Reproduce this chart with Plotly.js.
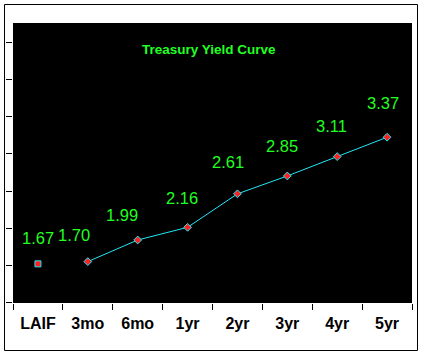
<!DOCTYPE html>
<html>
<head>
<meta charset="utf-8">
<script src="https://cdn.plot.ly/plotly-3.0.1.min.js"></script>
<style>html,body{margin:0;padding:0;background:#fff;}#chart{width:423px;height:356px;}</style>
</head>
<body>
<div id="chart"></div>
<script>
// ---- data ----
const categories = ['LAIF', '3mo', '6mo', '1yr', '2yr', '3yr', '4yr', '5yr'];
const yields = [1.67, 1.70, 1.99, 2.16, 2.61, 2.85, 3.11, 3.37];
const chartTitle = 'Treasury Yield Curve';

// ---- label placement (pixel offsets, style only) ----
const labelDx = [0.5, -13.7, -16, -5.5, -9.8, -5.4, -5.7, -3.8];
const labelDy = [25.5, 26.7, 25.2, 28.9, 32, 30.2, 30.5, 34.3];

const GREEN = '#22ff22';
const CYAN = '#22e8f8';
const RED = '#ff2020';
const FONT = 'Liberation Sans, Arial, sans-serif';

const traces = [
  {
    type: 'scatter', mode: 'markers',
    x: categories.slice(0, 1), y: yields.slice(0, 1),
    marker: {symbol: 'square', size: 6, color: RED, line: {color: CYAN, width: 1}},
    hoverinfo: 'skip', showlegend: false
  },
  {
    type: 'scatter', mode: 'lines+markers',
    x: categories.slice(1), y: yields.slice(1),
    line: {color: CYAN, width: 1},
    marker: {symbol: 'diamond', size: 6, color: RED, line: {color: CYAN, width: 1}},
    hoverinfo: 'skip', showlegend: false
  }
];

const annotations = categories.map((c, i) => ({
  x: c, y: yields[i], xref: 'x', yref: 'y',
  text: yields[i].toFixed(2), showarrow: false,
  xanchor: 'center', yanchor: 'middle',
  xshift: labelDx[i], yshift: labelDy[i],
  font: {family: FONT, size: 16.5, color: GREEN}
}));
annotations.push({
  xref: 'paper', yref: 'paper', x: 0.4905, y: 0.9036,
  xanchor: 'center', yanchor: 'middle', showarrow: false,
  text: '<b>' + chartTitle + '</b>',
  font: {family: FONT, size: 13.5, color: GREEN}
});

const layout = {
  width: 423, height: 356, autosize: false,
  margin: {l: 13, r: 11, t: 23, b: 53, pad: 0},
  paper_bgcolor: '#ffffff', plot_bgcolor: '#000000',
  showlegend: false,
  xaxis: {
    type: 'category', categoryorder: 'array', categoryarray: categories,
    range: [-0.5, categories.length - 0.5],
    tickson: 'boundaries', ticks: 'outside', ticklen: 6, tickwidth: 1, tickcolor: '#000',
    ticklabelstandoff: 9,
    showgrid: false, zeroline: false, showline: false,
    tickfont: {family: FONT, size: 16, color: '#000', weight: 'bold'},
    fixedrange: true
  },
  yaxis: {
    range: [1.144, 4.904], tick0: 1.145, dtick: 0.5,
    ticks: 'outside', ticklen: 6, tickwidth: 1, tickcolor: '#000',
    showticklabels: false, showgrid: false, zeroline: false, showline: false,
    fixedrange: true
  },
  annotations: annotations,
  shapes: [{
    type: 'rect', xref: 'paper', yref: 'paper',
    x0: (4.5 - 13) / 399, x1: (417.5 - 13) / 399,
    y0: (303 - 350.5) / 280, y1: (303 - 4.5) / 280,
    line: {color: '#000', width: 1}, fillcolor: 'rgba(0,0,0,0)', layer: 'below'
  }]
};

Plotly.newPlot('chart', traces, layout, {staticPlot: true, displayModeBar: false});
</script>
</body>
</html>
